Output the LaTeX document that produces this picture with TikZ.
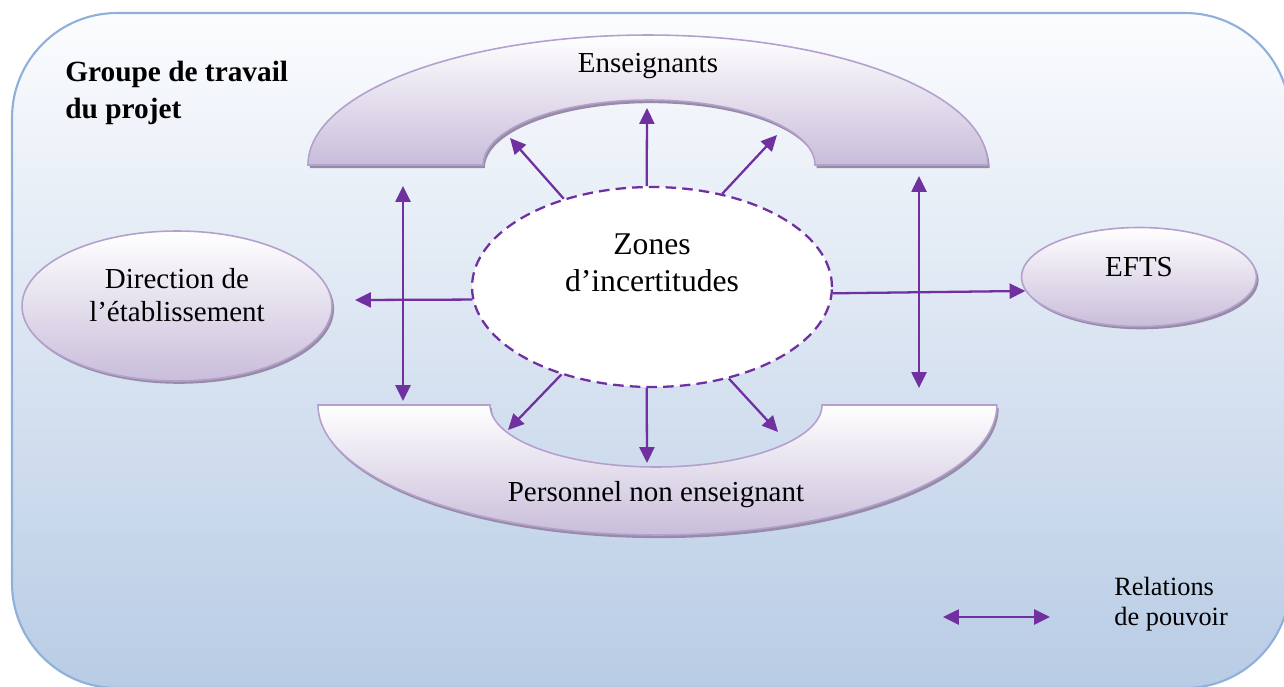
\documentclass[tikz,border=0pt]{standalone}
\usepackage{fontspec}
\setmainfont{Liberation Serif}
\usepackage{xcolor}
\usepackage{tikz}
\usetikzlibrary{arrows.meta, shapes.geometric, shadows}
\definecolor{relpurple}{RGB}{112,48,160}
\definecolor{lav}{RGB}{201,189,218}
\definecolor{lavedge}{RGB}{180,160,204}
\definecolor{lavshadow}{RGB}{150,140,168}
\definecolor{frameedge}{RGB}{142,176,218}
\definecolor{frametop}{RGB}{251,252,254}
\definecolor{framebot}{RGB}{184,204,229}
\tikzset{every picture/.style={x=0.02cm,y=-0.02cm},
  txt/.style={font=\fontsize{16.5}{18.7}\selectfont, align=center, inner sep=0pt},
  rel/.style={draw=relpurple, line width=1.3pt, -{Triangle[length=9pt,width=8.5pt]}},
  tworel/.style={rel, {Triangle[length=9pt,width=8.5pt]}-{Triangle[length=9pt,width=8.5pt]}},
  actor/.style={ellipse, draw=lavedge, line width=0.9pt, top color=white, bottom color=lav,
    inner sep=0pt, drop shadow={shadow xshift=1.2pt, shadow yshift=-1.6pt, fill=lavshadow, opacity=1}},
  band/.style={draw=lavedge, line width=0.9pt, top color=white, bottom color=lav,
    drop shadow={shadow xshift=1pt, shadow yshift=-1.8pt, fill=lavshadow, opacity=1}}}

\begin{document}
\begin{tikzpicture}
        \useasboundingbox (0,0) rectangle (1284,686);
        \begin{scope}
          \clip (0,0) rectangle (1284,686);
          \draw[draw=frameedge, line width=1.2pt, top color=frametop, bottom color=framebot,
            rounded corners=2.1cm] (12,13) rectangle (1290,688);
        \end{scope}
        \node[txt, font=\fontsize{16.7}{20.8}\selectfont\bfseries, align=left, anchor=west] (groupe) at (65,93) {Groupe de travail\\du projet};

        % enseignants / personnel
        \path[band] (308,165) arc[start angle=180, end angle=0, x radius=6.8cm, y radius=2.6cm]
          -- (815,165) arc[start angle=0, end angle=180, x radius=3.32cm, y radius=1.3cm] -- cycle;
        \path[band] (318,405) arc[start angle=180, end angle=360, x radius=6.79cm, y radius=2.6cm]
          -- (822,405) arc[start angle=360, end angle=180, x radius=3.32cm, y radius=1.24cm] -- cycle;
        \node[txt] (ens) at (648,66) {Enseignants};
        \node[txt] (pers) at (656,495) {Personnel non enseignant};

        \node[actor, minimum width=6.2cm, minimum height=3cm] (dir) at (177,306) {};
        \node[txt] (dirlbl) at (177,295) {Direction de\\l’établissement};
        \node[actor, minimum width=4.7cm, minimum height=1.98cm] (efts) at (1139,277) {};
        \node[txt] (eftslbl) at (1139,267) {EFTS};

        \node[ellipse, draw=relpurple, line width=1.3pt, dash pattern=on 6pt off 3.5pt, fill=white,
          minimum width=7.2cm, minimum height=4cm, inner sep=0pt] (zones) at (652,287) {};
        \node[txt, font=\fontsize{18}{21}\selectfont] (zoneslbl) at (652,263) {Zones\\d’incertitudes};

        \coordinate (upC) at (647,108);
        \coordinate (upL) at (510,138);
        \coordinate (upR) at (777,135);
        \coordinate (dnL) at (508,430);
        \coordinate (dnC) at (647,463);
        \coordinate (dnR) at (778,432);
        \coordinate (dirTip) at (355,300);
        \coordinate (vl1) at (403,186);
        \coordinate (vl2) at (403,401);
        \coordinate (vr1) at (919,176);
        \coordinate (vr2) at (919,388);

        \foreach \from/\to in {
          zones.93/upC, zones.135/upL, zones.53/upR,
          zones.224/dnL, zones.267/dnC, zones.310/dnR,
          zones.184/dirTip, zones.358/efts.187}
        \draw[rel] (\from) -- (\to);

        \draw[tworel] (vl1) -- (vl2);
        \draw[tworel] (vr1) -- (vr2);

        % legende
        \coordinate (lg1) at (943,617);
        \coordinate (lg2) at (1050,617);
        \draw[tworel] (lg1) -- (lg2);
        \node[txt, font=\fontsize{15}{17}\selectfont, align=left, anchor=west] (legend) at (1114,604) {Relations\\de pouvoir};
      \end{tikzpicture}
\end{document}
